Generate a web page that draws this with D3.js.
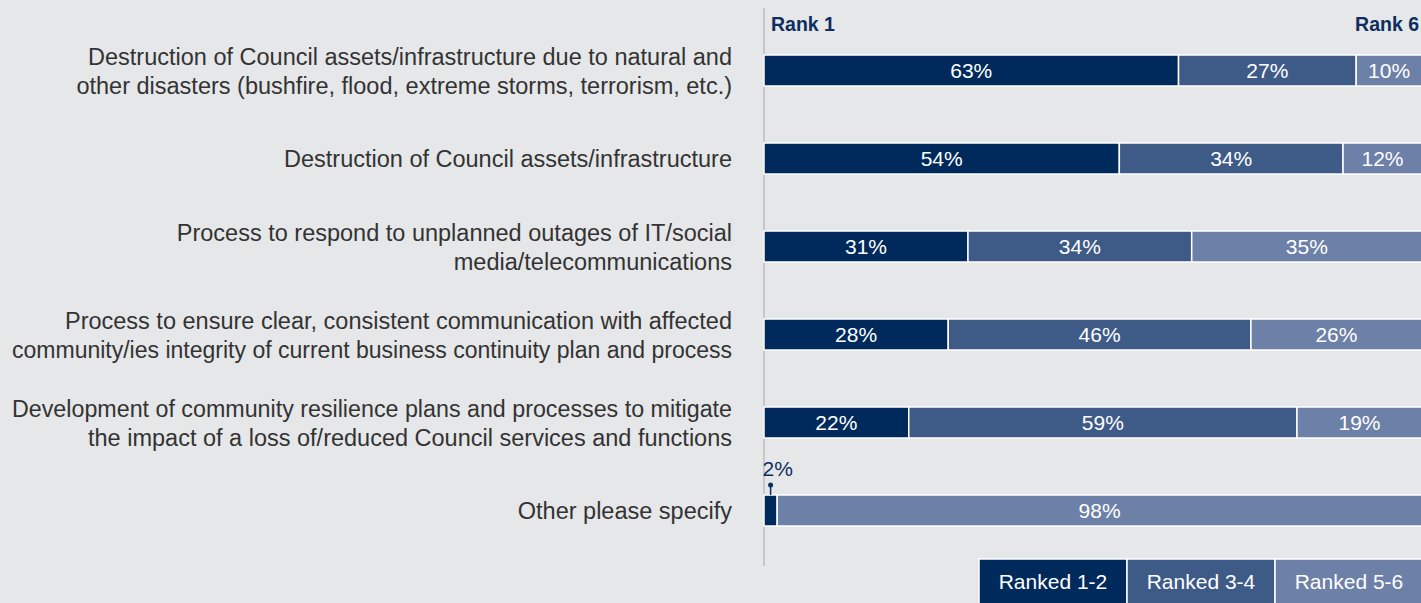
<!DOCTYPE html>
<html><head><meta charset="utf-8">
<script src="https://cdn.jsdelivr.net/npm/d3@7"></script>
<style>
html,body{margin:0;padding:0;background:#e6e7e9;overflow:hidden;}
svg{display:block;}
</style></head>
<body>
<svg id="c" width="1421" height="603"></svg>
<script>
const categories = [
  ["Destruction of Council assets/infrastructure due to natural and ", "other disasters (bushfire, flood, extreme storms, terrorism, etc.)"],
  ["Destruction of Council assets/infrastructure"],
  ["Process to respond to unplanned outages of IT/social", "media/telecommunications"],
  ["Process to ensure clear, consistent communication with affected", "community/ies integrity of current business continuity plan and process"],
  ["Development of community resilience plans and processes to mitigate", "the impact of a loss of/reduced Council services and functions"],
  ["Other please specify"]
];
const ranked12 = [63, 54, 31, 28, 22, 2];
const ranked34 = [27, 34, 34, 46, 59, 0];
const ranked56 = [10, 12, 35, 26, 19, 98];
const seriesNames = ["Ranked 1-2", "Ranked 3-4", "Ranked 5-6"];
const colors = ["#002a5c", "#3e5b88", "#6d80a8"];
const axisLabels = ["Rank 1", "Rank 6"];

const svg = d3.select("#c");
const font = "'Liberation Sans', Arial, sans-serif";
const x = d3.scaleLinear().domain([0, 100]).range([764, 1422]);
const y = d3.scaleBand().domain(d3.range(categories.length)).range([55, 526]).paddingInner(57 / 88).paddingOuter(0);
const rows = categories.map((c, i) => ({i, vals: [ranked12[i], ranked34[i], ranked56[i]]}));

// axis line
svg.append("line").attr("x1", 764).attr("x2", 764).attr("y1", 8).attr("y2", 566)
  .attr("stroke", "#b0b2b5").attr("stroke-width", 1.2);

// axis rank labels
svg.append("text").attr("x", x(0) + 7).attr("y", 31).text(axisLabels[0])
  .attr("font-family", font).attr("font-size", 19.5).attr("font-weight", "bold").attr("fill", "#0d2e5e");
svg.append("text").attr("x", 1419).attr("y", 31).attr("text-anchor", "end").text(axisLabels[1])
  .attr("font-family", font).attr("font-size", 19.5).attr("font-weight", "bold").attr("fill", "#0d2e5e");

const bh = y.bandwidth();
const labelRight = 732, maxW = 720;
rows.forEach(r => {
  let cum = 0;
  const y0 = y(r.i);
  r.vals.forEach((v, k) => {
    if (v > 0) {
      svg.append("rect").attr("x", x(cum)).attr("y", y0).attr("width", x(cum + v) - x(cum)).attr("height", bh)
        .attr("fill", colors[k]).attr("stroke", "#ffffff").attr("stroke-width", 1.5);
      if (v >= 5) {
        svg.append("text").attr("x", (x(cum) + x(cum + v)) / 2).attr("y", y0 + bh / 2 + 7.5)
          .attr("text-anchor", "middle").attr("fill", "#ffffff").attr("font-family", font).attr("font-size", 21)
          .text(v + "%");
      } else {
        const cx = (x(cum) + x(cum + v)) / 2;
        svg.append("line").attr("x1", cx).attr("x2", cx).attr("y1", y0 - 10).attr("y2", y0)
          .attr("stroke", "#0d2e5e").attr("stroke-width", 1.5);
        svg.append("circle").attr("cx", cx).attr("cy", y0 - 10).attr("r", 2.5).attr("fill", "#0d2e5e");
        svg.append("text").attr("x", cx - 8).attr("y", y0 - 19).attr("fill", "#0d2e5e")
          .attr("font-family", font).attr("font-size", 21).text(v + "%");
      }
    }
    cum += v;
  });
  // category label
  const lines = categories[r.i];
  const lh = 29;
  const cy = y0 + bh / 2;
  lines.forEach((ln, j) => {
    const t = svg.append("text").attr("text-anchor", "end").attr("font-family", font).attr("font-size", 23.5)
      .attr("fill", "#333333").attr("x", labelRight).attr("y", cy + 8.5 + (j - (lines.length - 1) / 2) * lh)
      .text(ln.trim());
    const w = t.node().getComputedTextLength();
    if (w > maxW) t.attr("textLength", maxW).attr("lengthAdjust", "spacingAndGlyphs");
  });
});

// legend
const lx = [979, 1127, 1275];
seriesNames.forEach((n, k) => {
  svg.append("rect").attr("x", lx[k]).attr("y", 559).attr("width", 148).attr("height", 50)
    .attr("fill", colors[k]).attr("stroke", "#ffffff").attr("stroke-width", 1.5);
  svg.append("text").attr("x", lx[k] + 74).attr("y", 589).attr("text-anchor", "middle").attr("fill", "#ffffff")
    .attr("font-family", font).attr("font-size", 21).text(n);
});
</script>
</body></html>
